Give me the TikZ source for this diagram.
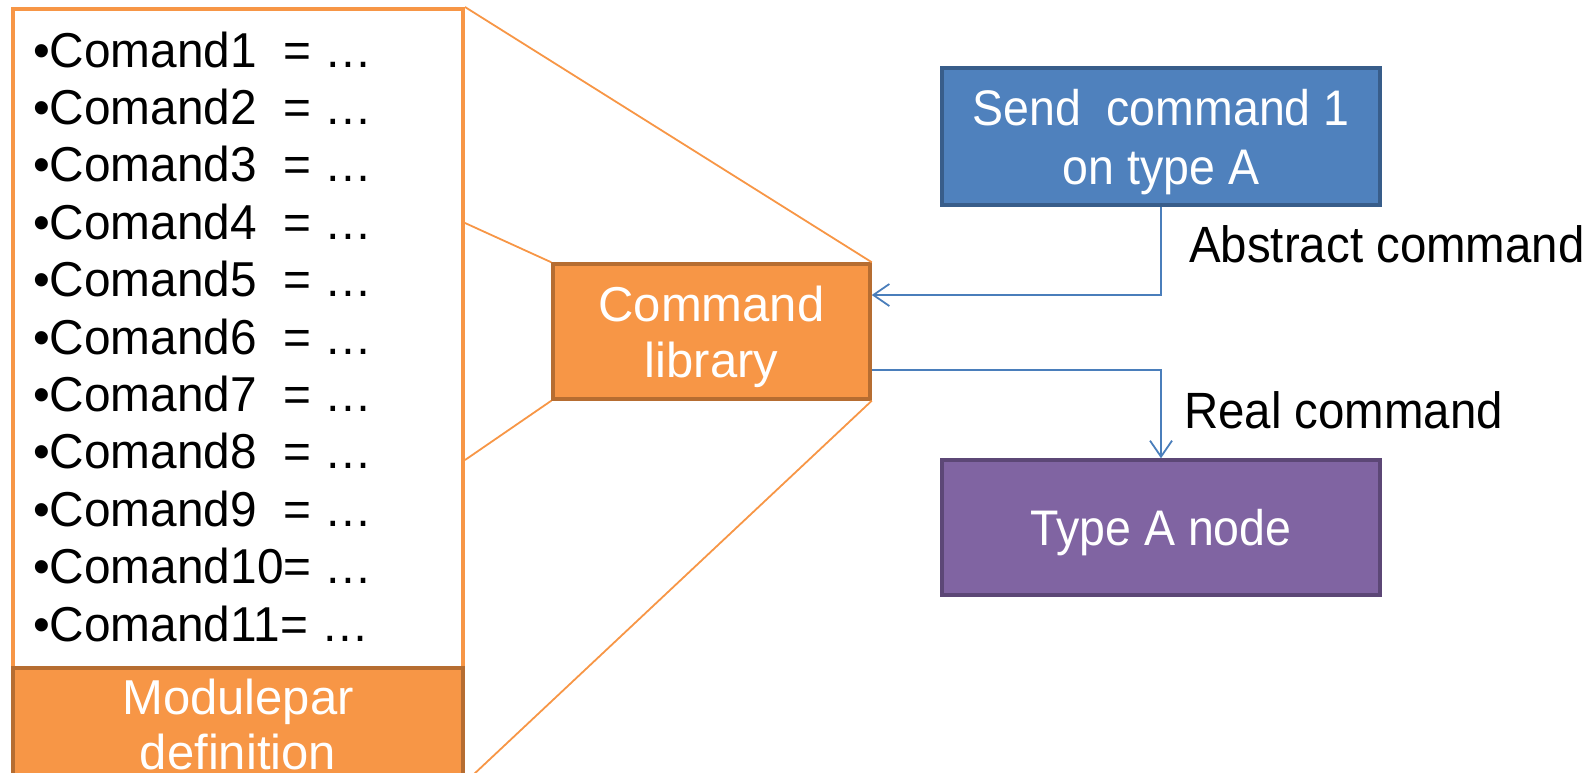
\documentclass[tikz,border=0pt]{standalone}
\usepackage{fontspec}
\setmainfont{Liberation Sans}
\newfontfamily\narrowfont[FakeStretch=0.93]{Liberation Sans}
\newfontfamily\listfont[FakeStretch=0.975]{Liberation Sans}
\usetikzlibrary{arrows.meta}
\definecolor{orF}{HTML}{F79646}
\definecolor{orD}{HTML}{B66D31}
\definecolor{blF}{HTML}{4F81BD}
\definecolor{blD}{HTML}{385D8A}
\definecolor{puF}{HTML}{8064A2}
\definecolor{puD}{HTML}{5C4776}
\definecolor{arr}{HTML}{4A7EBB}
\begin{document}
\begin{tikzpicture}[x=1pt,y=-1pt,
  box/.style={draw, line width=3.5pt, inner sep=0pt},
  boxtext/.style={inner sep=0pt, text=white, align=center},
  item/.style={anchor=base west, inner sep=0pt, font=\listfont\fontsize{49}{56}\selectfont},
  zoomline/.style={draw=orF, line width=1.8pt},
  conn/.style={draw=arr, line width=1.8pt, -{Straight Barb[length=16pt,width=22pt]}},
  lbl/.style={anchor=west, inner sep=0pt, font=\narrowfont\fontsize{51}{58}\selectfont}]
\useasboundingbox (0,0) rectangle (1594,772);
% list box
\node[draw=orF, line width=4pt, fill=white, minimum width=450pt, minimum height=659pt, inner sep=0pt] (list) at (238,338.5) {};
\foreach \i/\t in {1/{Comand1\ \ = …},2/{Comand2\ \ = …},3/{Comand3\ \ = …},4/{Comand4\ \ = …},5/{Comand5\ \ = …},6/{Comand6\ \ = …},7/{Comand7\ \ = …},8/{Comand8\ \ = …},9/{Comand9\ \ = …},10/{Comand10= …},11/{Comand11= …}}
  \node[item] (c\i) at (33,{67+57.4*(\i-1)}) {•\t};
% modulepar box
\node[box, draw=orD, fill=orF, minimum width=450pt, minimum height=113pt] (mod) at (238,724.5) {};
\node[boxtext, font=\fontsize{49}{55}\selectfont] (modt) at (mod.center) {Modulepar\\definition};
% command library
\node[box, draw=orD, fill=orF, minimum width=317pt, minimum height=135pt] (cmd) at (711.5,331.5) {};
\node[boxtext, font=\fontsize{49}{56}\selectfont] (cmdt) at ([yshift=-5pt]cmd.center) {Command\\library};
% zoom lines
\draw[zoomline] (list.north east) -- (cmd.north east);
\draw[zoomline] ([yshift=115.5pt]list.east) -- (cmd.north west);
\draw[zoomline] ([yshift=-121.5pt]list.east) -- (cmd.south west);
\draw[zoomline] (mod.south east) -- (cmd.south east);
% right boxes
\node[box, draw=blD, fill=blF, minimum width=438pt, minimum height=137pt] (send) at (1161,136.5) {};
\node[boxtext, font=\narrowfont\fontsize{50}{59}\selectfont] (sendt) at ([yshift=-6pt]send.center) {Send\ \ command 1\\on type A};
\node[box, draw=puD, fill=puF, minimum width=438pt, minimum height=135pt] (typeA) at (1161,527.5) {};
\node[boxtext, font=\narrowfont\fontsize{50}{59}\selectfont] (typeAt) at ([yshift=-5pt]typeA.center) {Type A node};
% connectors
\draw[conn] (send.south) |- ([yshift=36.5pt]cmd.east);
\draw[conn] ([yshift=-38.5pt]cmd.east) -| (typeA.north);
\node[lbl] (abs) at (1189,244) {Abstract command};
\node[lbl] (real) at (1184,410) {Real command};
\end{tikzpicture}
\end{document}
